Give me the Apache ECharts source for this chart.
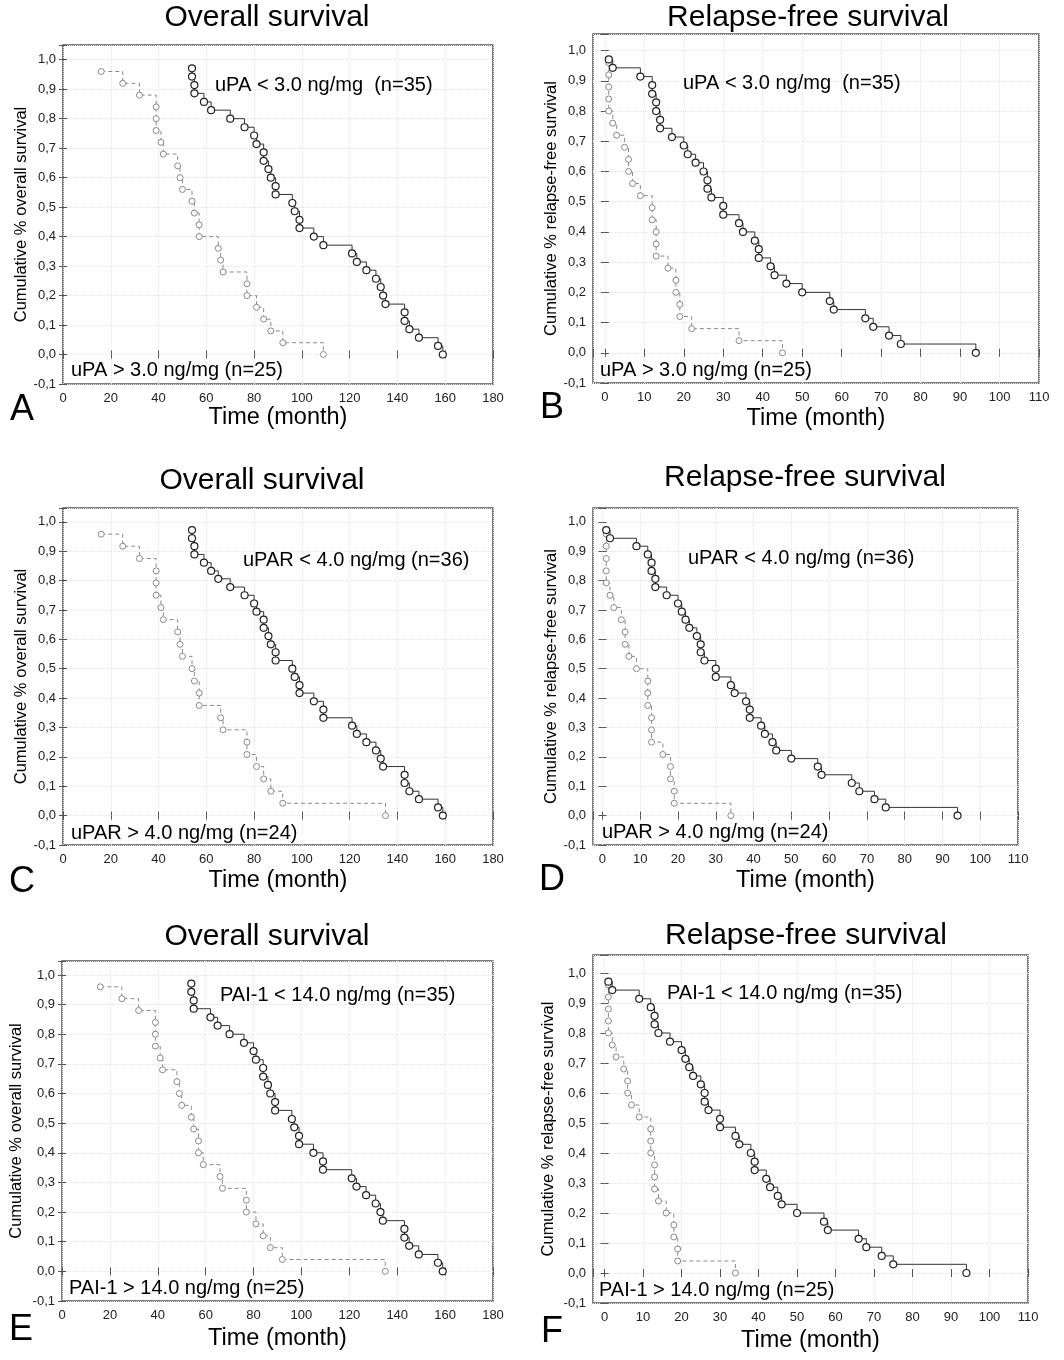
<!DOCTYPE html>
<html>
<head>
<meta charset="utf-8">
<script src="https://cdn.jsdelivr.net/npm/echarts@6/dist/echarts.min.js"></script>
<style>
html,body{margin:0;padding:0;background:#fff;}
#chart{width:1064px;height:1360px;}
</style>
</head>
<body>
<div id="chart"></div>
<script>
// ---------------- DATA ----------------
// Panel A: Overall survival by uPA
const A_high_t = [16,25,32,39,39,39,41,42,48,49,50,54,55,57,57,65,66,67,77,77,81,84,87,92,109];
const A_high_s = [0.96,0.92,0.88,0.84,0.80,0.76,0.72,0.68,0.64,0.60,0.56,0.52,0.48,0.44,0.40,0.36,0.32,0.28,0.24,0.20,0.16,0.12,0.08,0.04,0.00];
const A_low_t  = [54,54,55,55,59,62,70,76,80,81,84,84,86,87,89,89,96,97,99,99,105,109,121,123,127,131,133,134,135,143,143,145,149,157,159];
const A_low_s  = [0.971,0.943,0.914,0.886,0.857,0.829,0.800,0.771,0.743,0.714,0.686,0.657,0.629,0.600,0.571,0.543,0.514,0.486,0.457,0.429,0.400,0.371,0.343,0.314,0.286,0.257,0.229,0.200,0.171,0.143,0.114,0.086,0.057,0.029,0.000];

// Panel B: Relapse-free survival by uPA
const B_high_t = [1,1,1,1,1,2,3,5,6,6,7,9,12,12,13,13,13,16,18,18,19,19,22,34,45];
const B_high_s = [0.96,0.92,0.88,0.84,0.80,0.76,0.72,0.68,0.64,0.60,0.56,0.52,0.48,0.44,0.40,0.36,0.32,0.28,0.24,0.20,0.16,0.12,0.08,0.04,0.00];
const B_low_t  = [1,2,9,12,12,13,13,14,14,17,20,21,23,25,26,26,27,30,30,34,35,38,39,39,42,43,46,50,57,58,66,68,72,75,94];
const B_low_s  = [0.971,0.943,0.914,0.886,0.857,0.829,0.800,0.771,0.743,0.714,0.686,0.657,0.629,0.600,0.571,0.543,0.514,0.486,0.457,0.429,0.400,0.371,0.343,0.314,0.286,0.257,0.229,0.200,0.171,0.143,0.114,0.086,0.057,0.029,0.000];

// Panel C: Overall survival by uPAR
const C_high_t = [16,25,32,39,39,39,41,42,48,49,50,54,55,57,57,66,67,77,77,81,84,87,92,135];
const C_high_s = [0.958,0.917,0.875,0.833,0.792,0.750,0.708,0.667,0.625,0.583,0.542,0.500,0.458,0.417,0.375,0.333,0.292,0.250,0.208,0.167,0.125,0.083,0.042,0.000];
const C_low_t  = [54,54,55,55,59,62,65,70,76,80,81,84,84,86,87,89,89,96,97,99,99,105,109,109,121,123,127,131,133,134,143,143,145,149,157,159];
const C_low_s  = [0.972,0.944,0.917,0.889,0.861,0.833,0.806,0.778,0.750,0.722,0.694,0.667,0.639,0.611,0.583,0.556,0.528,0.500,0.472,0.444,0.417,0.389,0.361,0.333,0.306,0.278,0.250,0.222,0.194,0.167,0.139,0.111,0.083,0.056,0.028,0.000];

// Panel D: Relapse-free survival by uPAR
const D_high_t = [1,1,1,1,1,2,3,5,6,6,7,9,12,12,12,13,13,13,16,18,18,19,19,34];
const D_high_s = [0.958,0.917,0.875,0.833,0.792,0.750,0.708,0.667,0.625,0.583,0.542,0.500,0.458,0.417,0.375,0.333,0.292,0.250,0.208,0.167,0.125,0.083,0.042,0.000];
const D_low_t  = [1,2,9,12,13,13,14,14,17,20,21,22,23,25,26,26,27,30,30,34,35,38,39,39,42,43,45,46,50,57,58,66,68,72,75,94];
const D_low_s  = [0.972,0.944,0.917,0.889,0.861,0.833,0.806,0.778,0.750,0.722,0.694,0.667,0.639,0.611,0.583,0.556,0.528,0.500,0.472,0.444,0.417,0.389,0.361,0.333,0.306,0.278,0.250,0.222,0.194,0.167,0.139,0.111,0.083,0.056,0.028,0.000];

// Panel E: Overall survival by PAI-1
const E_high_t = [16,25,32,39,39,39,41,42,48,49,50,54,55,57,57,59,66,67,77,77,81,84,87,92,135];
const E_high_s = [0.96,0.92,0.88,0.84,0.80,0.76,0.72,0.68,0.64,0.60,0.56,0.52,0.48,0.44,0.40,0.36,0.32,0.28,0.24,0.20,0.16,0.12,0.08,0.04,0.00];
const E_low_t  = [54,54,55,55,62,65,70,76,80,81,84,84,86,87,89,89,96,97,99,99,105,109,109,121,123,127,131,133,134,143,143,145,149,157,159];
const E_low_s  = [0.971,0.943,0.914,0.886,0.857,0.829,0.800,0.771,0.743,0.714,0.686,0.657,0.629,0.600,0.571,0.543,0.514,0.486,0.457,0.429,0.400,0.371,0.343,0.314,0.286,0.257,0.229,0.200,0.171,0.143,0.114,0.086,0.057,0.029,0.000];

// Panel F: Relapse-free survival by PAI-1
const F_high_t = [1,1,1,1,1,2,3,5,6,6,7,9,12,12,12,13,13,13,14,16,18,18,19,19,34];
const F_high_s = [0.96,0.92,0.88,0.84,0.80,0.76,0.72,0.68,0.64,0.60,0.56,0.52,0.48,0.44,0.40,0.36,0.32,0.28,0.24,0.20,0.16,0.12,0.08,0.04,0.00];
const F_low_t  = [1,2,9,12,13,13,14,17,20,21,22,23,25,26,26,27,30,30,34,35,38,39,39,42,43,45,46,50,57,58,66,68,72,75,94];
const F_low_s  = [0.971,0.943,0.914,0.886,0.857,0.829,0.800,0.771,0.743,0.714,0.686,0.657,0.629,0.600,0.571,0.543,0.514,0.486,0.457,0.429,0.400,0.371,0.343,0.314,0.286,0.257,0.229,0.200,0.171,0.143,0.114,0.086,0.057,0.029,0.000];

// Text
const titleOS = 'Overall survival';
const titleRFS = 'Relapse-free survival';
const xName = 'Time (month)';
const yNameOS = 'Cumulative % overall survival';
const yNameRFS = 'Cumulative % relapse-free survival';
const labels = {
  A: ['uPA < 3.0 ng/mg  (n=35)', 'uPA > 3.0 ng/mg (n=25)'],
  B: ['uPA < 3.0 ng/mg  (n=35)', 'uPA > 3.0 ng/mg (n=25)'],
  C: ['uPAR < 4.0 ng/mg (n=36)', 'uPAR > 4.0 ng/mg (n=24)'],
  D: ['uPAR < 4.0 ng/mg (n=36)', 'uPAR > 4.0 ng/mg (n=24)'],
  E: ['PAI-1 < 14.0 ng/mg (n=35)', 'PAI-1 > 14.0 ng/mg (n=25)'],
  F: ['PAI-1 < 14.0 ng/mg (n=35)', 'PAI-1 > 14.0 ng/mg (n=25)']
};

// ---------------- LAYOUT ----------------
const FONT = '"Liberation Sans", Arial, Helvetica, sans-serif';
const panels = [
  {id:'A', title:titleOS,  yName:yNameOS,  grid:{left:63, top:45,  width:430, height:339}, xr:[0,180,20],  ymax:1.05,
   hi:[A_high_t,A_high_s], lo:[A_low_t,A_low_s], tpos:[267,18], letter:[22,410], up:[215,85], dn:[71,370], nameGap:21, yGap:33},
  {id:'B', title:titleRFS, yName:yNameRFS, grid:{left:593, top:34, width:446, height:349}, xr:[-3,110,10], ymax:1.055,
   hi:[B_high_t,B_high_s], lo:[B_low_t,B_low_s], tpos:[808,18], letter:[552,408], up:[683,83], dn:[600,370], nameGap:24, yGap:32},
  {id:'C', title:titleOS,  yName:yNameOS,  grid:{left:63, top:508, width:430, height:337}, xr:[0,180,20],  ymax:1.047,
   hi:[C_high_t,C_high_s], lo:[C_low_t,C_low_s], tpos:[262,481], letter:[22,882], up:[243,560], dn:[71,833], nameGap:24, yGap:33},
  {id:'D', title:titleRFS, yName:yNameRFS, grid:{left:593, top:508, width:425, height:337}, xr:[-2.5,110,10], ymax:1.047,
   hi:[D_high_t,D_high_s], lo:[D_low_t,D_low_s], tpos:[805,478], letter:[552,880], up:[688,558], dn:[602,832], nameGap:24, yGap:28},
  {id:'E', title:titleOS,  yName:yNameOS,  grid:{left:62, top:961, width:431, height:340}, xr:[0,180,20],  ymax:1.047,
   hi:[E_high_t,E_high_s], lo:[E_low_t,E_low_s], tpos:[267,937], letter:[21,1330], up:[220,995], dn:[69,1288], nameGap:26, yGap:37},
  {id:'F', title:titleRFS, yName:yNameRFS, grid:{left:593, top:955, width:435, height:348}, xr:[-3,110,10], ymax:1.06,
   hi:[F_high_t,F_high_s], lo:[F_low_t,F_low_s], tpos:[806,936], letter:[552,1332], up:[667,993], dn:[599,1290], nameGap:26, yGap:36}
];

const grids = [], xAxes = [], yAxes = [], series = [], graphics = [];

function yFmt(v){
  const r = Math.round(v*10);
  if (Math.abs(v*10 - r) > 1e-6) return '';
  return (r/10).toFixed(1).replace('.', ',');
}

panels.forEach((p, i) => {
  grids.push(Object.assign({show:true, borderColor:'#555', borderWidth:1.5, backgroundColor:'#fff', containLabel:false}, p.grid));
  const step = p.xr[2];
  const tickStyle = {show:true, inside:true, length:4, lineStyle:{color:'#555', width:1}};
  const gridLine = {show:true, lineStyle:{color:'#e4e4e4', type:'dotted', width:1}};
  // bottom x
  xAxes.push({type:'value', gridIndex:i, position:'bottom', min:p.xr[0], max:p.xr[1], minInterval:step, maxInterval:step,
    axisLine:{show:false}, axisTick:tickStyle,
    axisLabel:{show:true, margin:8, fontSize:13, color:'#222', fontFamily:FONT,
      formatter: v => (v >= 0 && Math.abs(v/step - Math.round(v/step)) < 1e-6) ? String(Math.round(v)) : ''},
    splitLine:gridLine,
    name:xName, nameLocation:'middle', nameGap:p.nameGap,
    nameTextStyle:{fontSize:23.5, color:'#000', fontFamily:FONT}});
  // top mirror
  xAxes.push({type:'value', gridIndex:i, position:'top', min:p.xr[0], max:p.xr[1], minInterval:step, maxInterval:step,
    axisLine:{show:false}, axisTick:tickStyle, axisLabel:{show:false}, splitLine:{show:false}});
  // left y
  yAxes.push({type:'value', gridIndex:i, position:'left', min:-0.1, max:p.ymax, minInterval:0.1, maxInterval:0.1,
    axisLine:{show:false}, axisTick:tickStyle,
    axisLabel:{show:true, margin:7, fontSize:13, color:'#222', fontFamily:FONT, formatter:yFmt},
    splitLine:gridLine,
    name:p.yName, nameLocation:'middle', nameGap:p.yGap,
    nameTextStyle:{fontSize:16.5, color:'#000', fontFamily:FONT}});
  // right mirror
  yAxes.push({type:'value', gridIndex:i, position:'right', min:-0.1, max:p.ymax, minInterval:0.1, maxInterval:0.1,
    axisLine:{show:false}, axisTick:tickStyle, axisLabel:{show:false}, splitLine:{show:false}});

  // high-level group (gray dashed)
  series.push({type:'line', name:labels[p.id][1], xAxisIndex:2*i, yAxisIndex:2*i, step:'end',
    data:p.hi[0].map((t,k)=>[t, p.hi[1][k]]),
    symbol:'circle', symbolSize:6, showSymbol:true, showAllSymbol:true,
    itemStyle:{color:'#fff', borderColor:'#8a8a8a', borderWidth:1},
    lineStyle:{color:'#8a8a8a', width:1, type:[4,3]},
    emphasis:{disabled:true}, silent:true, animation:false, z:3});
  // low-level group (black solid)
  series.push({type:'line', name:labels[p.id][0], xAxisIndex:2*i, yAxisIndex:2*i, step:'end',
    data:p.lo[0].map((t,k)=>[t, p.lo[1][k]]),
    symbol:'circle', symbolSize:7, showSymbol:true, showAllSymbol:true,
    itemStyle:{color:'#fff', borderColor:'#222', borderWidth:1.2},
    lineStyle:{color:'#333', width:1},
    emphasis:{disabled:true}, silent:true, animation:false, z:4});

  // texts
  graphics.push({type:'text', x:p.tpos[0], y:p.tpos[1], z:100,
    style:{text:p.title, fontSize:30, fontFamily:FONT, fill:'#000', align:'center', verticalAlign:'middle'}});
  graphics.push({type:'text', x:p.letter[0], y:p.letter[1], z:100,
    style:{text:p.id, fontSize:36, fontFamily:FONT, fill:'#000', align:'center', verticalAlign:'middle'}});
  graphics.push({type:'text', x:p.up[0], y:p.up[1], z:100,
    style:{text:labels[p.id][0], fontSize:20, fontFamily:FONT, fill:'#000', align:'left', verticalAlign:'middle'}});
  graphics.push({type:'text', x:p.dn[0], y:p.dn[1], z:100,
    style:{text:labels[p.id][1], fontSize:20, fontFamily:FONT, fill:'#000', align:'left', verticalAlign:'middle'}});
});

const chart = echarts.init(document.getElementById('chart'), null, {renderer:'canvas', width:1064, height:1360});
chart.setOption({
  backgroundColor:'#fff',
  animation:false,
  grid:grids, xAxis:xAxes, yAxis:yAxes, series:series, graphic:graphics
});
</script>
</body>
</html>
